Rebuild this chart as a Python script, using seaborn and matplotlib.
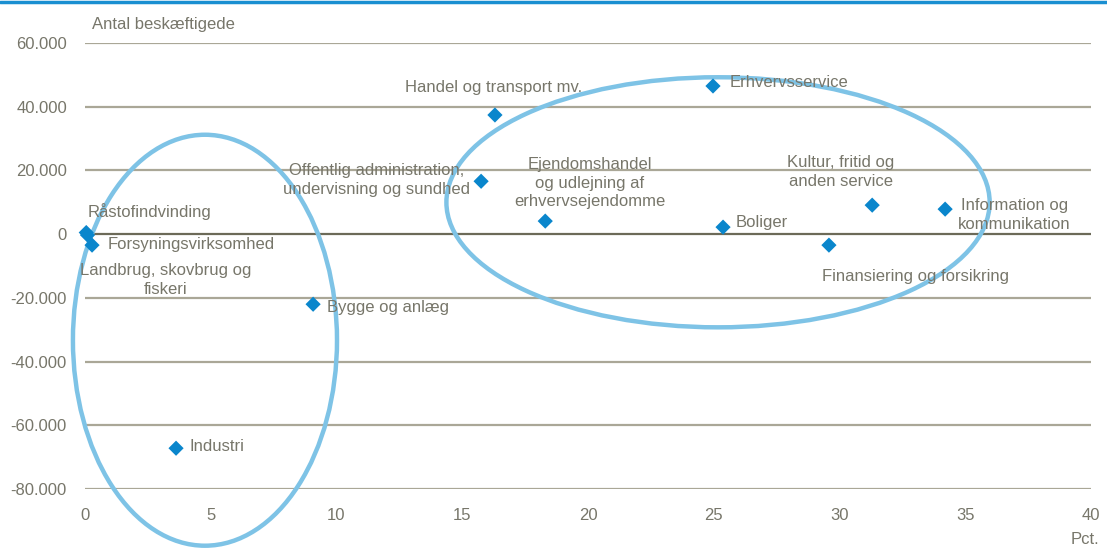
import matplotlib
matplotlib.use('Agg')
import matplotlib.pyplot as plt
from matplotlib.patches import Ellipse
from matplotlib.lines import Line2D
import pandas as pd
import seaborn as sns

sectors = [
    'Råstofindvinding', 'Landbrug, skovbrug og\nfiskeri', 'Forsyningsvirksomhed',
    'Bygge og anlæg', 'Industri', 'Offentlig administration,\nundervisning og sundhed',
    'Handel og transport mv.', 'Ejendomshandel\nog udlejning af\nerhvervsejendomme',
    'Erhvervsservice', 'Boliger', 'Finansiering og forsikring',
    'Kultur, fritid og\nanden service', 'Information og\nkommunikation',
]
pct = [0.05, 0.1, 0.28, 9.07, 3.62, 15.75, 16.3, 18.3, 24.97, 25.37, 29.58, 31.3, 34.2]
employed = [500, -300, -3450, -22000, -67200, 16600, 37400, 4100, 46500, 2200, -3450, 9100, 7850]

# label anchor (x, y, ha)
label_pos = [
    (0.12, 7200, 'left'), (3.22, -14400, 'center'), (0.91, -3140, 'left'),
    (9.62, -22900, 'left'), (4.17, -66600, 'left'), (11.61, 16960, 'center'),
    (16.26, 46160, 'center'), (20.08, 16010, 'center'), (25.65, 47730, 'left'),
    (25.85, 3770, 'left'), (29.3, -13190, 'left'), (30.06, 19470, 'center'),
    (34.71, 5970, 'left'),
]

blue = '#0a86cc'
grey_txt = '#77766a'
grid_c = '#aaa797'
ring = '#7ec3e6'


def main():
    sns.set_theme(style='white')
    plt.rcParams['font.family'] = ['Liberation Sans Narrow', 'Liberation Sans', 'DejaVu Sans']

    df = pd.DataFrame({'sector': sectors, 'pct': pct, 'employed': employed})

    fig = plt.figure(figsize=(11.07, 5.5), dpi=100)
    ax = fig.add_axes([85 / 1107, 1 - 489 / 550, (1091 - 85) / 1107, (489 - 43) / 550])

    sns.scatterplot(data=df, x='pct', y='employed', marker='D', s=60, color=blue,
                    edgecolor='none', ax=ax, zorder=5, clip_on=False)

    ax.set_xlim(0, 40)
    ax.set_ylim(-80000, 60000)
    ax.set_xticks(range(0, 41, 5))
    ax.set_yticks(range(-80000, 60001, 20000))
    ax.set_yticklabels([f'{v:,}'.replace(',', '.') for v in range(-80000, 60001, 20000)])
    for v in range(-80000, 60001, 20000):
        ax.axhline(v, color='#6c6a58' if v == 0 else grid_c, lw=1.6, zorder=1)
    for s in ax.spines.values():
        s.set_visible(False)
    ax.tick_params(axis='both', length=0, labelsize=12, colors=grey_txt)
    ax.tick_params(axis='y', pad=13)
    ax.tick_params(axis='x', pad=14)
    ax.set(xlabel=None, ylabel=None)

    for name, (lx, ly, ha) in zip(sectors, label_pos):
        ax.text(lx, ly, name, ha=ha, va='center', multialignment='center',
                fontsize=12, color=grey_txt, zorder=6, linespacing=1.3)

    ax.add_patch(Ellipse((4.77, -33300), 10.5, 129000, fill=False, ec=ring, lw=3.2,
                         zorder=4, clip_on=False))
    ax.add_patch(Ellipse((25.17, 10000), 21.6, 78500, fill=False, ec=ring, lw=3.2,
                         zorder=4, clip_on=False))

    fig.text(92 / 1107, 1 - 25 / 550, 'Antal beskæftigede', ha='left', va='center',
             fontsize=12, color=grey_txt)
    fig.text(1085 / 1107, 1 - 540 / 550, 'Pct.', ha='center', va='center',
             fontsize=12, color=grey_txt)
    fig.add_artist(Line2D([0, 1], [1 - 2 / 550, 1 - 2 / 550], color='#1a8fd1', lw=2.5,
                          transform=fig.transFigure))

    fig.savefig('out.png', dpi=100)
    plt.close(fig)


if __name__ == '__main__':
    main()
